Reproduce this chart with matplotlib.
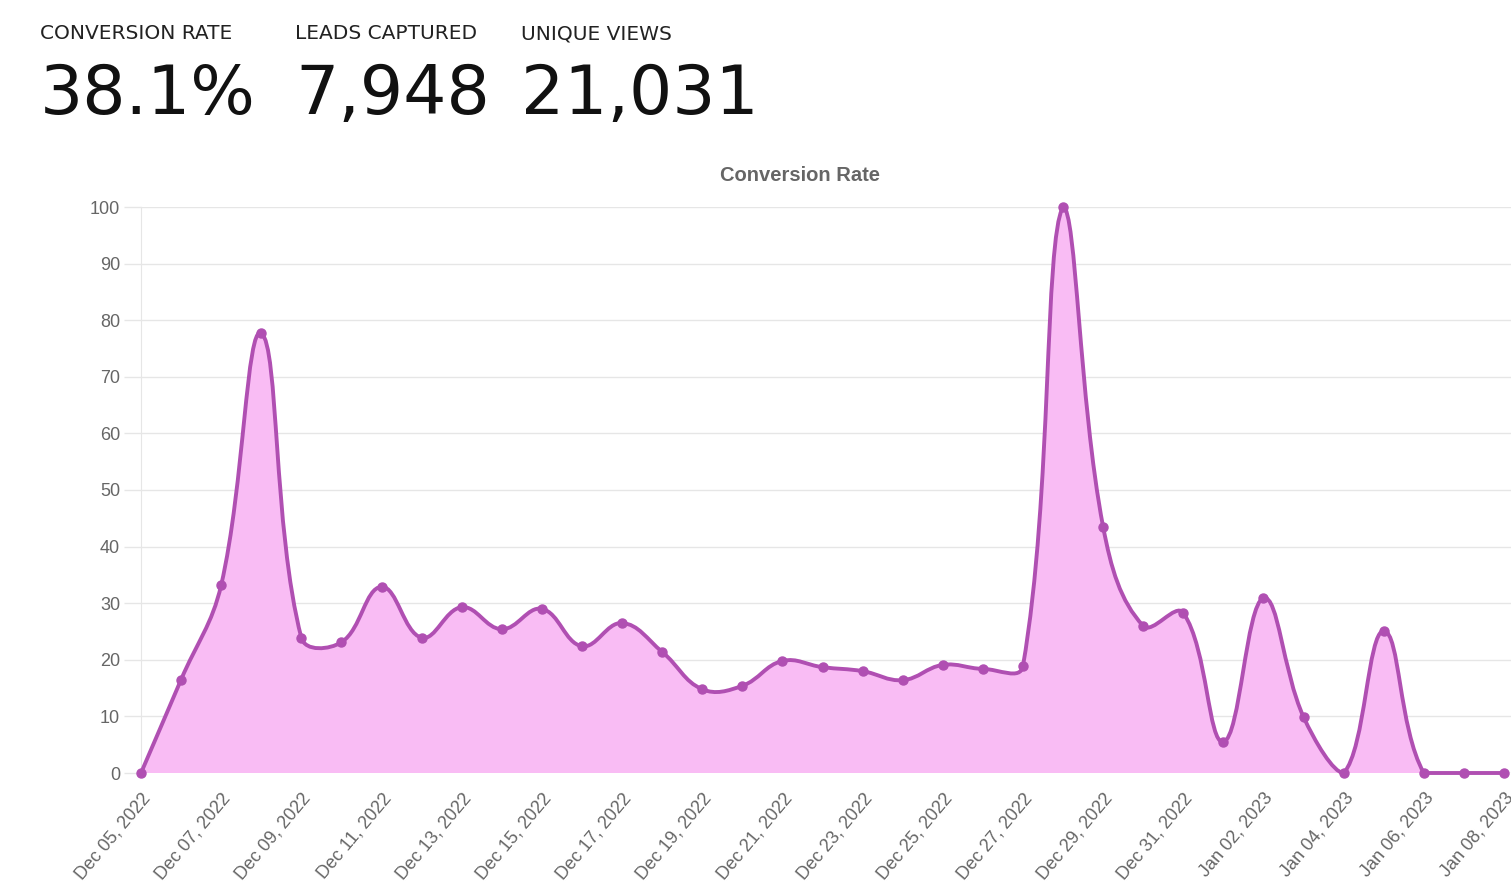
"""
Conversion rate dashboard - header KPIs plus smoothed area line
"""
import numpy as np
import pandas as pd
import matplotlib
matplotlib.use('Agg')
import matplotlib.pyplot as plt
from matplotlib.path import Path
from matplotlib.patches import PathPatch

# KPI header
kpi_labels = ['CONVERSION RATE', 'LEADS CAPTURED', 'UNIQUE VIEWS']
kpi_values = ['38.1%', '7,948', '21,031']

# Daily conversion rate (%)
dates = pd.date_range('2022-12-05', '2023-01-08', freq='D')
rate = [0, 16.5, 33.2, 77.7, 23.9, 23.1, 32.9, 23.9, 29.3, 25.4,
        29.0, 22.4, 26.5, 21.4, 14.8, 15.4, 19.8, 18.7, 18.0, 16.4,
        19.1, 18.4, 18.9, 100, 43.5, 26.0, 28.3, 5.5, 30.9, 9.9,
        0, 25.1, 0, 0, 0]
y_ticks = [0, 10, 20, 30, 40, 50, 60, 70, 80, 90, 100]

LINE = '#b04fb2'
FILL = '#f9bcf4'
GRID = '#e6e6e6'
TICK = '#666666'

W, H = 1511, 892
fig = plt.figure(figsize=(W / 100, H / 100), dpi=100)

# header
label_x = [40, 295, 521]
for x, lab, val in zip(label_x, kpi_labels, kpi_values):
    fig.text(x / W, 1 - 39 / H, lab, fontsize=14.5, color='#222222',
             ha='left', va='baseline', family='DejaVu Sans')
    fig.text(x / W, 1 - 114 / H, val, fontsize=49, color='#111111',
             ha='left', va='baseline', family='DejaVu Sans')

fig.text(800 / W, 1 - 175 / H, 'Conversion Rate', fontsize=14.5, color=TICK,
         ha='center', va='center', fontweight='bold', family='Liberation Sans')

# plot area
x0, x1 = 141, 1511
y_top, y_bot = 207, 773
ax = fig.add_axes([x0 / W, 1 - y_bot / H, (x1 - x0) / W, (y_bot - y_top) / H])
n = len(rate)
xs = np.arange(n, dtype=float)
ys = np.array(rate, dtype=float)
px_per_day = (1504 - 141) / (n - 1)
ax.set_xlim(0, (x1 - x0) / px_per_day)
ax.set_ylim(0, 100)

# Chart.js style bezier spline (tension 0.4), computed in pixel space
sx, sy = px_per_day, (y_bot - y_top) / 100.0
P = np.column_stack([xs * sx, ys * sy])
tension = 0.4
cp_prev = np.zeros_like(P)
cp_next = np.zeros_like(P)
for i in range(n):
    prev = P[i - 1] if i > 0 else P[i]
    cur = P[i]
    nxt = P[i + 1] if i < n - 1 else P[i]
    d01 = np.hypot(*(cur - prev))
    d12 = np.hypot(*(nxt - cur))
    tot = d01 + d12
    s01 = d01 / tot if tot else 0
    s12 = d12 / tot if tot else 0
    cp_prev[i] = cur - tension * s01 * (nxt - prev)
    cp_next[i] = cur + tension * s12 * (nxt - prev)
# cap control points to chart area
cp_prev[:, 1] = np.clip(cp_prev[:, 1], 0, 100 * sy)
cp_next[:, 1] = np.clip(cp_next[:, 1], 0, 100 * sy)
scale = np.array([sx, sy])
P, cp_prev, cp_next = P / scale, cp_prev / scale, cp_next / scale

verts = [tuple(P[0])]
codes = [Path.MOVETO]
for i in range(n - 1):
    verts += [tuple(cp_next[i]), tuple(cp_prev[i + 1]), tuple(P[i + 1])]
    codes += [Path.CURVE4] * 3
line_path = Path(verts, codes)

fill_verts = verts + [(xs[-1], 0), (xs[0], 0), verts[0]]
fill_codes = codes + [Path.LINETO, Path.LINETO, Path.CLOSEPOLY]
ax.add_patch(PathPatch(Path(fill_verts, fill_codes), facecolor=FILL,
                       edgecolor='none', zorder=2))
ax.add_patch(PathPatch(line_path, facecolor='none', edgecolor=LINE,
                       linewidth=2.8, zorder=3, clip_on=False))
ax.plot(xs, ys, 'o', color=LINE, markersize=6.5, zorder=4, clip_on=False)

# axes styling
ax.set_yticks(y_ticks)
ax.set_yticklabels([str(v) for v in y_ticks])
tick_idx = list(range(0, n, 2))
ax.set_xticks(tick_idx)
ax.set_xticklabels([dates[i].strftime('%b %d, %Y') for i in tick_idx],
                   rotation=50, ha='right', va='top', rotation_mode='anchor')
ax.tick_params(axis='both', colors=GRID, labelcolor=TICK, labelsize=13,
               length=12, width=1)
ax.tick_params(axis='x', length=0, pad=12)
ax.tick_params(axis='y', pad=3)
ax.grid(True, axis='y', color=GRID, linewidth=1, zorder=0)
ax.set_axisbelow(True)
for side in ['top', 'right', 'bottom']:
    ax.spines[side].set_visible(False)
ax.spines['left'].set_color(GRID)
for lab in ax.get_xticklabels() + ax.get_yticklabels():
    lab.set_family('Liberation Sans')

fig.savefig('out.png', dpi=100, facecolor='white')
